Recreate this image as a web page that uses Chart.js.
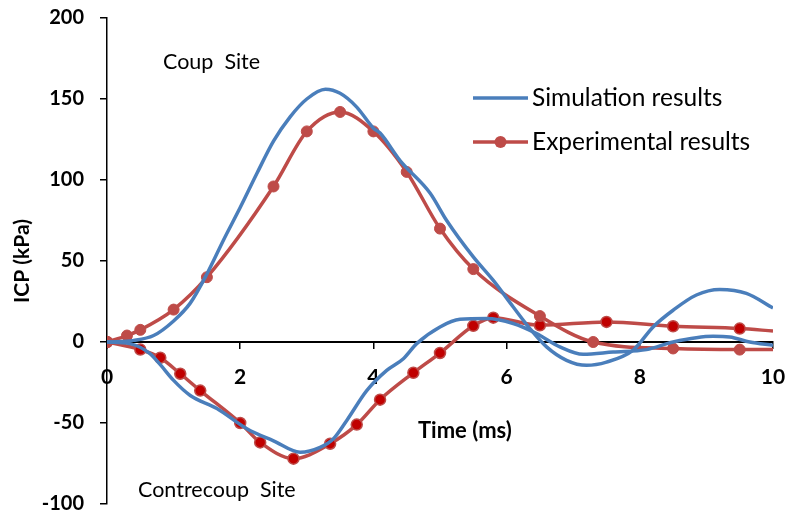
<!DOCTYPE html>
<html>
<head>
<meta charset="utf-8">
<script src="https://cdn.jsdelivr.net/npm/chart.js@4.4.0/dist/chart.umd.min.js"></script>
<style>
  body { margin: 0; background: #fff; }
  #wrap { width: 788px; height: 519px; }
</style>
</head>
<body>
<div id="wrap"><canvas id="icpChart" width="788" height="519"></canvas></div>
<script>
// ICP time histories, coup and contrecoup sites
const simTimeCoup = [0, 0.4, 0.7, 1.0, 1.25, 1.5, 1.75, 2.0, 2.25, 2.5, 2.75, 3.0, 3.28, 3.5, 3.75, 4.0, 4.1, 4.4, 4.85, 5.1, 5.5, 5.8, 6.1, 6.35, 6.6, 6.9, 7.2, 7.5, 7.9, 8.2, 8.5, 8.85, 9.2, 9.6, 10.0];
const simCoup = [0, 1, 4, 13, 24, 42, 63, 83, 104, 124, 139, 150, 156, 153.5, 145, 132, 129, 112, 92, 75, 52.5, 38, 21.6, 8.3, -3, -11.3, -14.4, -12.4, -5, 9.3, 19.6, 29, 32.4, 30, 21];

const simTimeContre = [0, 0.34, 0.64, 0.8, 1.0, 1.25, 1.65, 2.1, 2.5, 2.9, 3.2, 3.4, 3.6, 3.9, 4.2, 4.45, 4.65, 5.0, 5.3, 5.7, 6.1, 6.45, 6.8, 7.15, 7.6, 8.1, 8.5, 9.1, 9.35, 9.65, 10.0];
const simContre = [0, -1, -7, -14, -23.7, -33, -41, -53.5, -61, -68, -65, -59.7, -48.4, -30, -17.5, -10.3, -1, 9.3, 14, 14.5, 11.4, 5.2, -3, -7.6, -6.2, -4.7, 0, 3.5, 3.1, 0, -2];

const expTimeCoup = [0, 0.3, 0.5, 1.0, 1.5, 2.5, 3.0, 3.5, 4.0, 4.5, 5.0, 5.5, 6.5, 7.3, 8.5, 9.5, 10.0];
const expCoup = [0, 4, 7.5, 20, 40, 96, 130, 142, 130, 105, 70, 45, 16, 0, -4, -4.7, -4.7];

const expTimeContre = [0, 0.5, 0.8, 1.1, 1.4, 2.0, 2.3, 2.8, 3.35, 3.75, 4.1, 4.6, 5.0, 5.5, 5.8, 6.5, 7.5, 8.5, 9.5, 10.0];
const expContre = [0, -4.7, -9.7, -19.6, -30, -50, -62, -72, -62.8, -51, -35.6, -19, -6.8, 10, 15, 10.3, 12.4, 9.7, 8.3, 6.8];

const xTicks = [0, 2, 4, 6, 8, 10];
const yTicks = [-100, -50, 0, 50, 100, 150, 200];

const BLUE = '#4A7EBB';
const RED = '#BE4B48';
const RED_DARK = '#C00000';

const pts = (xs, ys) => xs.map((x, i) => ({ x: x, y: ys[i] }));
// last point sits on the right border and has no marker
const markerOff = ctx => (ctx.raw && ctx.raw.x >= 10 ? 0 : 5.5);

const textBits = {
  id: 'textBits',
  afterDraw(chart) {
    const c = chart.ctx;
    c.save();
    c.fillStyle = '#000';
    c.textBaseline = 'middle';
    c.textAlign = 'left';

    c.font = '21.5px Lato';
    c.fillText('Coup  Site', 163, 62);
    c.fillText('Contrecoup  Site', 138, 490);

    c.font = 'bold 22px Lato';
    c.fillText('Time (ms)', 418, 431);

    // legend
    c.lineCap = 'butt';
    c.lineWidth = 3.5;
    c.strokeStyle = BLUE;
    c.beginPath(); c.moveTo(473, 98); c.lineTo(528, 98); c.stroke();
    c.strokeStyle = RED;
    c.beginPath(); c.moveTo(473, 142); c.lineTo(528, 142); c.stroke();
    c.fillStyle = RED;
    c.beginPath(); c.arc(500.5, 142, 6, 0, Math.PI * 2); c.fill();

    c.fillStyle = '#000';
    c.font = '24.5px Lato';
    c.fillText('Simulation results', 532, 98);
    c.fillText('Experimental results', 532, 142);
    c.restore();
  }
};

const ctx = document.getElementById('icpChart').getContext('2d');
new Chart(ctx, {
  type: 'line',
  data: {
    datasets: [
      {
        label: 'Simulation results',
        data: pts(simTimeCoup, simCoup),
        borderColor: BLUE, borderWidth: 3.5,
        pointRadius: 0, tension: 0.4, cubicInterpolationMode: 'monotone'
      },
      {
        label: 'Simulation results (contrecoup)',
        data: pts(simTimeContre, simContre),
        borderColor: BLUE, borderWidth: 3.5,
        pointRadius: 0, tension: 0.4, cubicInterpolationMode: 'monotone'
      },
      {
        label: 'Experimental results',
        data: pts(expTimeCoup, expCoup),
        borderColor: RED, borderWidth: 3.5,
        pointRadius: markerOff, pointBackgroundColor: RED,
        pointBorderColor: RED, pointBorderWidth: 1,
        tension: 0.3, cubicInterpolationMode: 'monotone'
      },
      {
        label: 'Experimental results (contrecoup)',
        data: pts(expTimeContre, expContre),
        borderColor: RED, borderWidth: 3.5,
        pointRadius: markerOff, pointBackgroundColor: RED_DARK,
        pointBorderColor: RED, pointBorderWidth: 1.5,
        tension: 0.3, cubicInterpolationMode: 'monotone'
      }
    ]
  },
  options: {
    responsive: false,
    animation: false,
    layout: { padding: { left: 0, top: 18, right: 15, bottom: 15 } },
    plugins: {
      legend: { display: false },
      tooltip: { enabled: false }
    },
    scales: {
      x: {
        type: 'linear',
        min: 0, max: 10,
        position: { y: 0 },
        afterBuildTicks: s => { s.ticks = xTicks.map(v => ({ value: v })); },
        afterFit: s => { s.paddingLeft = 0; s.paddingRight = 0; },
        border: { color: '#000', width: 2 },
        grid: { drawOnChartArea: false, drawTicks: true, tickLength: 6, color: '#000', lineWidth: 1.5 },
        ticks: { color: '#000', font: { family: 'Lato', size: 21, weight: 'bold' }, padding: 17, maxRotation: 0 }
      },
      y: {
        min: -100, max: 200,
        afterBuildTicks: s => { s.ticks = yTicks.map(v => ({ value: v })); },
        afterFit: s => { s.width = 107; s.paddingTop = 0; s.paddingBottom = 0; },
        border: { color: '#000', width: 1.5 },
        grid: { drawOnChartArea: false, drawTicks: true, tickLength: 7, color: '#000', lineWidth: 1.5 },
        ticks: { color: '#000', font: { family: 'Lato', size: 20, weight: 'bold' }, padding: 16 },
        title: {
          display: true, text: 'ICP (kPa)', color: '#000',
          font: { family: 'Lato', size: 21, weight: 'bold' },
          padding: { top: 10, bottom: 0 }
        }
      }
    }
  },
  plugins: [textBits]
});
</script>
</body>
</html>
